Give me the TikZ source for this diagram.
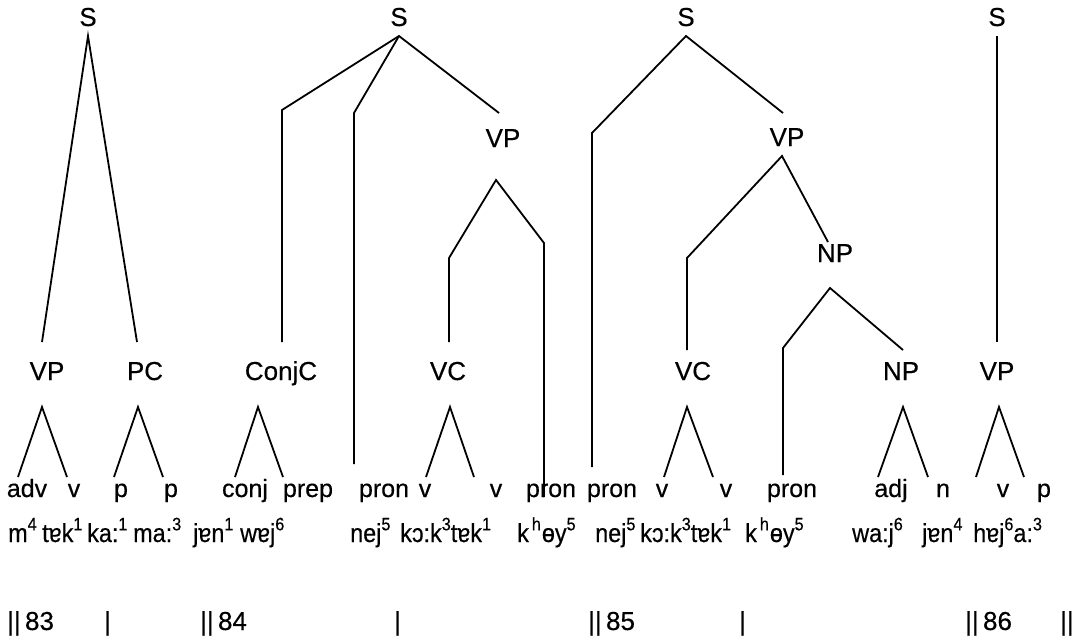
\documentclass[tikz,border=0pt]{standalone}
\usepackage{fontspec}
\setmainfont{Liberation Sans}[FakeBold=0.4]
\newfontfamily\trfont{Liberation Sans}[FakeStretch=0.9,FakeBold=0.4]
\newcommand\tone[1]{\raisebox{0.45em}{\fontsize{18}{18}\selectfont #1}}
\newcommand\asp{\hspace{3pt}\tone{h}\hspace{1pt}}
\tikzset{
  lab/.style={font=\fontsize{26}{30}\selectfont, inner sep=0pt, anchor=base},
  wrd/.style={font=\fontsize{25}{30}\selectfont, inner sep=0pt, anchor=base},
  trn/.style={font=\trfont\fontsize{26}{30}\selectfont, inner sep=0pt, anchor=base west},
  bar/.style={font=\fontsize{26}{30}\selectfont, inner sep=0pt, anchor=base west},
  branch/.style={line width=1.8pt, line join=miter, line cap=butt},
  stem/.style={line width=1.4pt}
}
\begin{document}
\begin{tikzpicture}[x=1pt,y=-1pt]
\useasboundingbox (0,0) rectangle (1077,640);
% ---------- labels ----------
\node[lab] (S1) at (88,26) {S};
\node[lab] (S2) at (399,26) {S};
\node[lab] (S3) at (686,26) {S};
\node[lab] (S4) at (997,26) {S};
\node[lab] (VP2) at (503,147) {VP};
\node[lab] (VP3) at (787,146) {VP};
\node[lab] (NPm) at (835,262) {NP};
\node[lab] (VP1) at (47,380) {VP};
\node[lab] (PC) at (145,380) {PC};
\node[lab] (ConjC) at (281,380) {ConjC};
\node[lab] (VC2) at (448,380) {VC};
\node[lab] (VC3) at (693,380) {VC};
\node[lab] (NPb) at (901,380) {NP};
\node[lab] (VP4) at (997,380) {VP};
% ---------- word classes ----------
\node[wrd] (w1) at (27,497) {adv};
\node[wrd] (w2) at (74,497) {v};
\node[wrd] (w3) at (121,497) {p};
\node[wrd] (w4) at (171,497) {p};
\node[wrd] (w5) at (245,497) {conj};
\node[wrd] (w6) at (308,497) {prep};
\node[wrd] (w7) at (384,497) {pron};
\node[wrd] (w8) at (425,497) {v};
\node[wrd] (w9) at (496,497) {v};
\node[wrd] (w10) at (551,497) {pron};
\node[wrd] (w11) at (612,497) {pron};
\node[wrd] (w12) at (662,497) {v};
\node[wrd] (w13) at (726,497) {v};
\node[wrd] (w14) at (792,497) {pron};
\node[wrd] (w15) at (891,497) {adj};
\node[wrd] (w16) at (943,497) {n};
\node[wrd] (w17) at (1003,497) {v};
\node[wrd] (w18) at (1044,497) {p};
% ---------- transcription ----------
\node[trn] (t1) at (8,542) {m\tone{4}};
\node[trn] (t2) at (42,542) {tɐk\tone{1}};
\node[trn] (t3) at (87,542) {ka:\tone{1}};
\node[trn] (t4) at (133,542) {ma:\tone{3}};
\node[trn] (t5) at (193,542) {jɐn\tone{1}};
\node[trn] (t6) at (240,542) {wɐj\tone{6}};
\node[trn] (t7) at (350,542) {nej\tone{5}};
\node[trn] (t8) at (400,542) {kɔ:k\tone{3}tɐk\tone{1}};
\node[trn] (t9) at (517,542) {k\asp ɵy\tone{5}};
\node[trn] (t10) at (595,542) {nej\tone{5}};
\node[trn] (t11) at (640,542) {kɔ:k\tone{3}tɐk\tone{1}};
\node[trn] (t12) at (745,542) {k\asp ɵy\tone{5}};
\node[trn] (t13) at (852,542) {wa:j\tone{6}};
\node[trn] (t14) at (922,542) {jɐn\tone{4}};
\node[trn] (t15) at (973,542) {hɐj\tone{6}a:\tone{3}};
% ---------- units ----------
\node[bar] (b1) at (7,630) {||\,83};
\node[bar] (b2) at (104,630) {|};
\node[bar] (b3) at (200,630) {||\,84};
\node[bar] (b4) at (394,630) {|};
\node[bar] (b5) at (588,630) {||\,85};
\node[bar] (b6) at (739,630) {|};
\node[bar] (b7) at (965,630) {||\,86};
\node[bar] (b8) at (1060,630) {||};
% ---------- coordinates ----------
\coordinate (a1) at (88,36);
\coordinate (vp1t) at (42,342);
\coordinate (pc1t) at (137,342);
\coordinate (a2) at (399,36);
\coordinate (c2a) at (282,110); \coordinate (c2a') at (282,342);
\coordinate (c2b) at (354,113); \coordinate (c2b') at (354,464);
\coordinate (c2c) at (499,113);
\coordinate (a2v) at (496,180);
\coordinate (c2d) at (449,258); \coordinate (c2d') at (449,342);
\coordinate (c2e) at (544,243); \coordinate (c2e') at (544,497);
\coordinate (a3) at (686,36);
\coordinate (c3a) at (592,133); \coordinate (c3a') at (592,467);
\coordinate (c3b) at (783,113);
\coordinate (a3v) at (782,156);
\coordinate (c3c) at (687,258); \coordinate (c3c') at (687,350);
\coordinate (c3d) at (828,242);
\coordinate (a3n) at (830,288);
\coordinate (c3e) at (783,348); \coordinate (c3e') at (783,475);
\coordinate (c3f) at (903,350);
\coordinate (a4) at (997,36);
\coordinate (vp4t) at (997,342);
% ---------- tree branches ----------
\draw[branch] (vp1t) -- (a1) -- (pc1t);
\draw[branch] (c2a') -- (c2a) -- (a2) -- (c2c);
\draw[branch] (c2b') -- (c2b) -- (a2);
\draw[branch] (c2d') -- (c2d) -- (a2v) -- (c2e) -- (c2e');
\draw[branch] (c3a') -- (c3a) -- (a3) -- (c3b);
\draw[branch] (c3c') -- (c3c) -- (a3v) -- (c3d);
\draw[branch] (c3e') -- (c3e) -- (a3n) -- (c3f);
\draw[stem] (a4) -- (vp4t);
% ---------- bottom triangles ----------
\foreach \nm/\ax/\l/\r in {VP1/42/18/67, PC/138/114/163, ConjC/258/235/283, VC2/450/426/474, VC3/687/664/713, NPb/903/878/928, VP4/999/976/1024}{
  \coordinate (\nm-apex) at (\ax,407);
  \coordinate (\nm-l) at (\l,477);
  \coordinate (\nm-r) at (\r,477);
  \draw[branch] (\nm-l) -- (\nm-apex) -- (\nm-r);
}
\end{tikzpicture}
\end{document}
